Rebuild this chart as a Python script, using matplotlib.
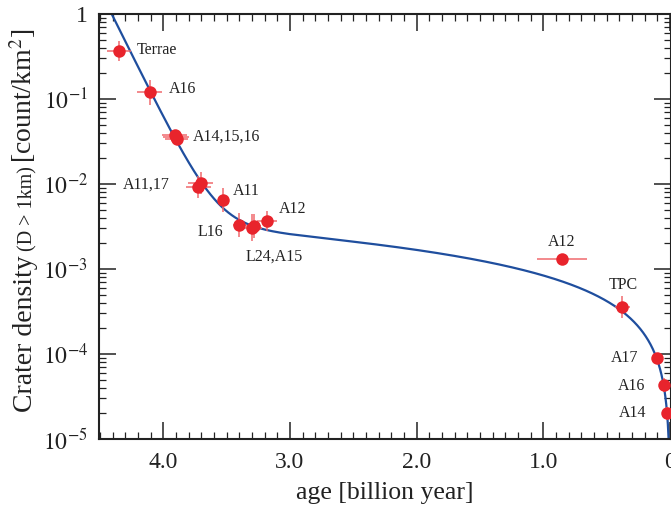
import numpy as np
import matplotlib
matplotlib.use("Agg")
import matplotlib.pyplot as plt
from matplotlib.ticker import FixedLocator, FixedFormatter, MultipleLocator, NullFormatter

plt.rcParams['font.family'] = ['Liberation Serif', 'DejaVu Serif']
plt.rcParams['mathtext.fontset'] = 'stix'

# Crater counts at dated landing sites (age in Gyr, N(D>1km) per km^2)
site_names = ["Terrae", "A16", "A14", "A15", "A16b", "A11", "A17", "A11b", "L16",
              "L24", "A15b", "A12", "A12y", "TPC", "A17y", "A16y", "A14y"]
ages = [4.35, 4.107, 3.91, 3.90, 3.895, 3.724, 3.705, 3.529, 3.40,
        3.30, 3.285, 3.184, 0.853, 0.377, 0.106, 0.048, 0.025]
densities = [0.37, 0.12, 0.0375, 0.0355, 0.034, 0.00914, 0.0102, 0.00648, 0.0033,
             0.00305, 0.0032, 0.00367, 0.00131, 3.6e-4, 8.9e-5, 4.3e-5, 2.0e-5]
age_err = [0.095, 0.10, 0.10, 0.10, 0.09, 0.10, 0.10, 0.03, 0.05,
           0.08, 0.06, 0.08, 0.20, 0.06, 0.01, 0.005, 0.005]
# half-width of the density uncertainty, in decades
dens_err_dex = [0.12, 0.15, 0.02, 0.02, 0.02, 0.13, 0.13, 0.14, 0.14,
                0.16, 0.14, 0.12, 0.05, 0.13, 0.06, 0.08, 0.08]

# Chronology function N(T) = a*(exp(b*T) - 1) + c*T
chron_a = 5.44e-14
chron_b = 6.93
chron_c = 8.38e-4

# Point annotations: text, age, density, horizontal alignment
label_texts = ["Terrae", "A16", "A14,15,16", "A11,17", "A11", "A12", "L16", "L24,A15",
               "A12", "TPC", "A17", "A16", "A14"]
label_ages = [4.208, 3.954, 3.765, 3.947, 3.45, 3.087, 3.528, 3.347,
              0.853, 0.372, 0.254, 0.20, 0.184]
label_dens = [0.377, 0.131, 0.0357, 0.0097, 0.0083, 0.00508, 0.00272, 0.00138,
              0.00208, 6.48e-4, 8.97e-5, 4.2e-5, 2.02e-5]
label_ha = ["left", "left", "left", "right", "left", "left", "right", "left",
            "center", "center", "right", "right", "right"]

xticks = [4.0, 3.0, 2.0, 1.0, 0.0]
xticklabels = ["4.0", "3.0", "2.0", "1.0", "0"]
yticks = [1e-5, 1e-4, 1e-3, 1e-2, 1e-1, 1]
yticklabels = [r"$10^{-5}$", r"$10^{-4}$", r"$10^{-3}$", r"$10^{-2}$", r"$10^{-1}$", "1"]

W, H = 671, 508
fig = plt.figure(figsize=(W / 100, H / 100), dpi=100)
ax = fig.add_axes([99 / W, (H - 439) / H, (671 - 99) / W, (439 - 14) / H])

# model curve
t = np.linspace(0.0005, 4.6, 4000)
n = chron_a * (np.exp(chron_b * t) - 1) + chron_c * t
ax.plot(t, n, color="#1f4e9e", lw=1.6, zorder=2)

# measurements with error bars
ages_a = np.array(ages)
dens_a = np.array(densities)
derr = np.array(dens_err_dex)
ylo = dens_a - dens_a * 10 ** (-derr)
yhi = dens_a * 10 ** derr - dens_a
ax.errorbar(ages_a, dens_a, xerr=age_err, yerr=[ylo, yhi], fmt="none",
            ecolor="#f06a6e", elinewidth=1.1, capsize=0, zorder=3)
ax.plot(ages_a, dens_a, "o", color="#e8242c", ms=9, mec="none", zorder=4)

for txt, xa, yd, ha in zip(label_texts, label_ages, label_dens, label_ha):
    ax.text(xa, yd, txt, ha=ha, va="center", fontsize=11.5, color="#222222", zorder=5)

ax.set_yscale("log")
ax.set_xlim(4.507, -0.007)
ax.set_ylim(1e-5, 1)

ax.xaxis.set_major_locator(FixedLocator(xticks))
ax.xaxis.set_major_formatter(FixedFormatter(xticklabels))
ax.xaxis.set_minor_locator(MultipleLocator(0.1))
ax.yaxis.set_major_locator(FixedLocator(yticks))
ax.yaxis.set_major_formatter(FixedFormatter(yticklabels))
ax.yaxis.set_minor_locator(FixedLocator([m * 10.0 ** e for e in range(-5, 0) for m in range(2, 10)]))
ax.yaxis.set_minor_formatter(NullFormatter())

ax.tick_params(which="both", direction="in", top=True, right=True, color="#222222")
ax.tick_params(which="major", length=12, width=1.1, labelsize=17, labelcolor="#222222")
ax.tick_params(axis="x", which="major", pad=9)
ax.tick_params(axis="y", which="major", pad=8)
ax.tick_params(which="minor", length=5, width=0.9)
for sp in ax.spines.values():
    sp.set_linewidth(1.5)
    sp.set_color("#222222")

ax.set_xlabel("age [billion year]", fontsize=18.5, color="#222222", labelpad=7)

# y label assembled from pieces of two sizes
parts = [("Crater density", 20), ("(D > 1km)", 14.5), ("[count/km$^{2}$]", 20)]
fig.canvas.draw()
renderer = fig.canvas.get_renderer()
texts = []
for s, fs in parts:
    tx = fig.text(0, 0, s, fontsize=fs, rotation=90, rotation_mode="anchor",
                  ha="left", va="baseline", color="#222222")
    texts.append(tx)
gap = 4
lengths = [tx.get_window_extent(renderer).height for tx in texts]
total = sum(lengths) + gap * (len(texts) - 1)
center_px = H - 220
ypos = center_px - total / 2
for tx, L in zip(texts, lengths):
    tx.set_position((32 / W, ypos / H))
    ypos += L + gap

fig.savefig("out.png", dpi=100)
